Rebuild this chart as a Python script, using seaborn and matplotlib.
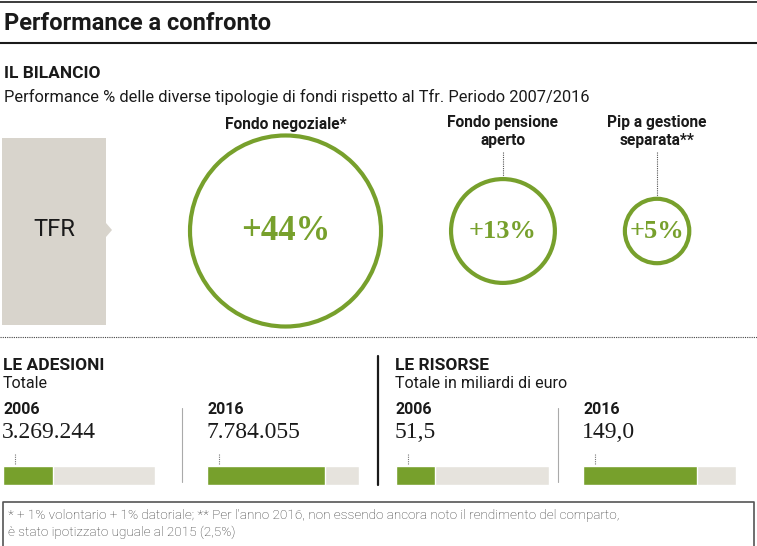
import numpy as np
import pandas as pd
import seaborn as sns
from matplotlib import pyplot as plt
from matplotlib import font_manager
from matplotlib.patches import Rectangle, Polygon

# ---- data ----
fund_names = ["Fondo negoziale*", "Fondo pensione\naperto", "Pip a gestione\nseparata**"]
fund_perf = [44, 13, 5]
fund_labels = ["+44%", "+13%", "+5%"]

years = ["2006", "2016"]
adesioni = [3269244, 7784055]
adesioni_labels = ["3.269.244", "7.784.055"]
adesioni_max = 10000000
risorse = [51.5, 149.0]
risorse_labels = ["51,5", "149,0"]
risorse_max = 200

GREEN = "#77a02c"
GREY_BAR = "#e6e3dd"
TFR_GREY = "#d8d4cc"
INK = "#1a1a1a"

W, H = 757, 546

installed = {f.name for f in font_manager.fontManager.ttflist}
def pick(*names):
    for n in names:
        if n in installed:
            return n
    return "DejaVu Sans"

SANS = pick("Liberation Sans Narrow", "Roboto", "Open Sans")
SERIF = pick("Liberation Serif", "DejaVu Serif")

sns.set_theme(style="white")
plt.rcParams["font.family"] = [SANS, "DejaVu Sans"]

fig = plt.figure(figsize=(W / 100, H / 100), dpi=100)
ax = fig.add_axes([0, 0, 1, 1])
ax.set_xlim(0, W)
ax.set_ylim(H, 0)
ax.axis("off")


def frac_box(x0, y0, x1, y1):
    # pixel box -> figure fraction rect
    return [x0 / W, 1 - y1 / H, (x1 - x0) / W, (y1 - y0) / H]


# ---- header ----
ax.plot([0, W], [2, 2], color=INK, lw=1.2)
ax.text(4, 23, "Performance a confronto", fontsize=17, fontweight="bold",
        color=INK, va="center")
ax.plot([0, W], [43, 43], color=INK, lw=1.5)
ax.text(4, 74, "IL BILANCIO", fontsize=12.5, fontweight="bold", color=INK, va="center")
ax.text(4, 97, "Performance % delle diverse tipologie di fondi rispetto al Tfr. Periodo 2007/2016",
        fontsize=11.8, color=INK, va="center")

# ---- TFR box ----
ax.add_patch(Rectangle((2, 138), 104, 187, facecolor=TFR_GREY, edgecolor="none"))
ax.add_patch(Polygon([[106, 223], [112, 230], [106, 237]], facecolor=TFR_GREY, edgecolor="none"))
ax.text(54, 230, "TFR", fontsize=17, color=INK, ha="center", va="center")

# ---- circles (area proportional to performance) ----
px_per_sqrt = 14.4
radii = [px_per_sqrt * np.sqrt(v) for v in fund_perf]
gap = 70
centers = []
left = 190
for r in radii:
    centers.append(left + r)
    left += 2 * r + gap
cy = 231

circ_df = pd.DataFrame({"x": centers, "y": [cy] * 3, "perf": fund_perf})
s_max = (2 * radii[0] * 0.72) ** 2
sns.scatterplot(data=circ_df, x="x", y="y", size="perf", sizes=(0, s_max),
                size_norm=(0, max(fund_perf)), color=GREEN, facecolor="none",
                edgecolor=GREEN, linewidth=3, legend=False, ax=ax, zorder=3)
ax.set_xlim(0, W)
ax.set_ylim(H, 0)
ax.axis("off")

label_fs = [25, 19, 19]
for cx, r, name, lab, fs in zip(centers, radii, fund_names, fund_labels, label_fs):
    ax.text(cx, cy + 1, lab, fontsize=fs, color=GREEN, ha="center", va="center",
            family=SERIF, fontweight="bold")
    if "\n" in name:
        ax.text(cx, 132, name, fontsize=11.2, fontweight="bold", color=INK,
                ha="center", va="center", linespacing=1.25)
        ax.plot([cx, cx], [152, cy - r], color="#555555", lw=0.8, ls=(0, (1, 1)))
    else:
        ax.text(cx, 124, name, fontsize=11.2, fontweight="bold", color=INK,
                ha="center", va="center")

# dotted separator
ax.plot([0, W], [337, 337], color="#444444", lw=0.8, ls=(0, (1, 1)))

# ---- bottom panels ----
ax.plot([378, 378], [356, 485], color=INK, lw=1.6)

panels = [
    ("LE ADESIONI", "Totale", 3, adesioni, adesioni_labels, adesioni_max, [3, 207], 152),
    ("LE RISORSE", "Totale in miliardi di euro", 395, risorse, risorse_labels, risorse_max, [396, 583], 153),
]
for title, sub, tx, vals, labs, vmax, bx, bw in panels:
    ax.text(tx, 366, title, fontsize=12.5, fontweight="bold", color=INK, va="center")
    ax.text(tx, 383, sub, fontsize=11.5, color=INK, va="center")
    ax.plot([bx[1] - 25, bx[1] - 25], [408, 482], color="#aaaaaa", lw=0.8)
    for x0, yr, v, lab in zip(bx, years, vals, labs):
        ax.text(x0, 410, yr, fontsize=11.5, fontweight="bold", color=INK, va="center")
        ax.text(x0 - 1, 433, lab, fontsize=17, color=INK, va="center", family=SERIF)
        ax.plot([x0 + 12, x0 + 12], [454, 464], color="#777777", lw=0.8, ls=(0, (1, 1)))
        bax = fig.add_axes(frac_box(x0, 466, x0 + bw, 485))
        bar_df = pd.DataFrame({"anno": [yr], "tot": [vmax], "val": [v]})
        sns.barplot(data=bar_df, x="tot", y="anno", orient="h", color=GREY_BAR,
                    width=1, saturation=1, ax=bax)
        sns.barplot(data=bar_df, x="val", y="anno", orient="h", color=GREEN,
                    width=1, saturation=1, ax=bax)
        bax.set_xlim(0, vmax)
        bax.set_ylim(0.5, -0.5)
        bax.axis("off")

# ---- footnote ----
ax.plot([3, 3, 754, 754], [546, 502, 502, 546], color="#555555", lw=1.2)
ax.text(8, 515, "* + 1% volontario + 1% datoriale; ** Per l'anno 2016, non essendo ancora noto il rendimento del comparto,",
        fontsize=9.7, color="#333333", va="center", fontweight="light")
ax.text(8, 532, "è stato ipotizzato uguale al 2015 (2,5%)", fontsize=9.7, color="#333333",
        va="center", fontweight="light")

fig.savefig("out.png", dpi=100)
